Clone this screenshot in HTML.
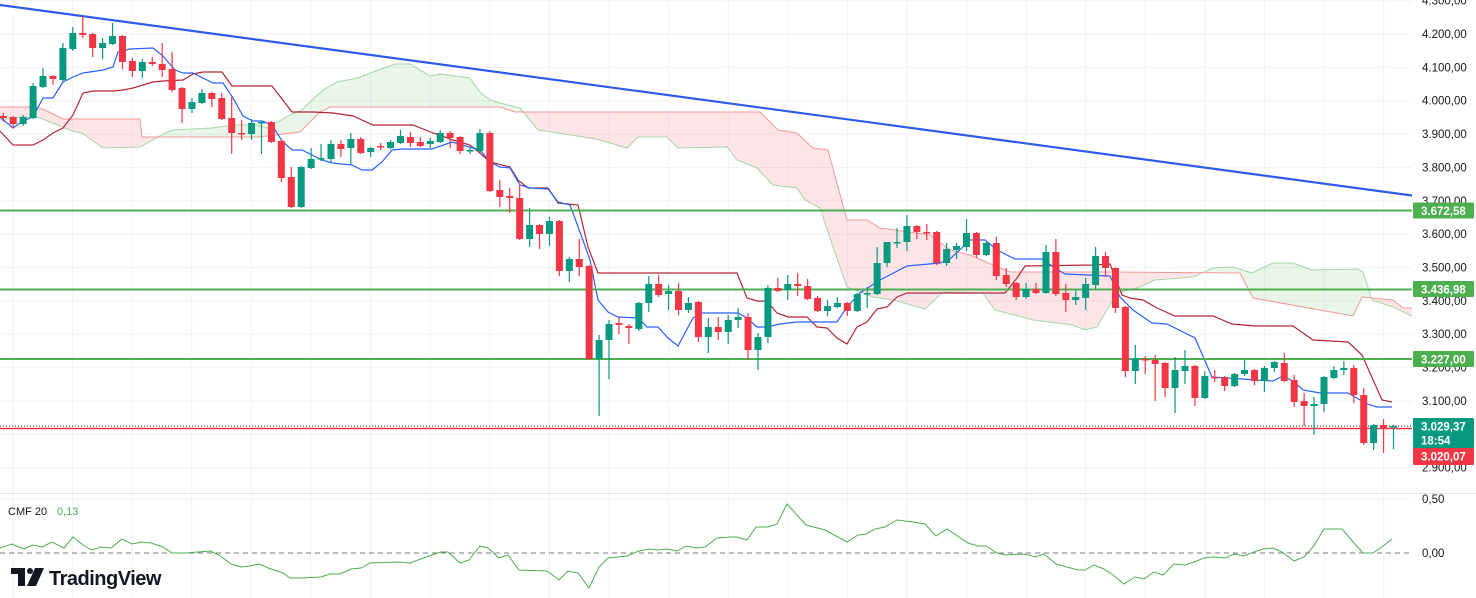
<!DOCTYPE html>
<html><head><meta charset="utf-8"><style>
html,body{margin:0;padding:0;background:#fff;}
svg{display:block;font-family:"Liberation Sans",sans-serif;}
</style></head><body>
<svg id="s" width="1476" height="598" viewBox="0 0 1476 598" xmlns="http://www.w3.org/2000/svg">
<defs>
<clipPath id="pane"><rect x="0" y="0" width="1412" height="492"/></clipPath>
<clipPath id="cA"><polygon id="pAbelow" points=""/></clipPath>
<clipPath id="cB"><polygon id="pBbelow" points=""/></clipPath>
</defs>
<g id="grid"></g>
<g clip-path="url(#pane)">
<g id="cloud"></g>
<g id="lines"></g>
<g id="candles"></g>
</g>
<line x1="0" y1="493.5" x2="1476" y2="493.5" stroke="#e0e3eb" stroke-width="1"/>
<g id="cmf"></g>
<g id="axis" font-size="11.5" fill="#131722"></g>
<text x="8" y="515" font-size="11" fill="#131722">CMF 20</text>
<text x="57" y="515" font-size="11" fill="#4caf50">0,13</text>
<g transform="translate(11,568)">
<rect x="0" y="0" width="14" height="6" fill="#131722"/><rect x="7" y="0" width="7" height="18" fill="#131722"/>
<circle cx="19" cy="3" r="3" fill="#131722"/><polygon points="24,0 33,0 25,18 16,18" fill="#131722"/>
<text x="38" y="17" font-size="20" font-weight="bold" fill="#131722" style="letter-spacing:-0.5px">TradingView</text>
</g>
</svg>
<script>
var NS="http://www.w3.org/2000/svg";
function el(p,t,a,txt){var e=document.createElementNS(NS,t);for(var k in a)e.setAttribute(k,a[k]);if(txt!==undefined)e.textContent=txt;p.appendChild(e);return e;}
var g=document.getElementById('grid');
for(var k=0;k<24;k++){var x=13+59.6*k;if(x>1412)break;el(g,'line',{x1:x,y1:0,x2:x,y2:598,stroke:'#f0f3fa'});}
var P=function(p){return 34+(4200-p)*0.3336;};
for(var p=2900;p<=4300;p+=100){var y=P(p);el(g,'line',{x1:0,y1:y,x2:1412,y2:y,stroke:'#f0f3fa'});}
el(g,'line',{x1:0,y1:499,x2:1412,y2:499,stroke:'#f0f3fa'});
// cloud
var A=[[0,120],[20,117],[40,118],[50,122],[72,131],[82,133],[103,148],[140,147],[165,133],[173,130],[212,128],[233,125],[257,125],[267,128],[290,115],[302,110],[312,100],[323,90],[337,82],[358,78],[370,73],[395,64],[410,64],[430,76],[440,74],[470,78],[480,92],[490,100],[500,103],[520,108],[538,130],[590,138],[600,140],[627,148],[638,137],[667,137],[678,148],[727,147],[737,160],[757,168],[773,185],[797,188],[805,200],[820,208],[833,247],[847,287],[873,297],[893,300],[925,309],[943,292],[983,293],[995,310],[1033,320],[1073,325],[1085,330],[1097,327],[1117,293],[1137,288],[1155,280],[1193,277],[1213,268],[1233,267],[1252,273],[1273,263],[1293,263],[1312,270],[1358,269],[1363,272],[1372,300],[1393,307],[1412,316]];
var B=[[0,107],[37,107],[45,110],[55,115],[63,119],[140,119],[142,137],[258,137],[300,132],[320,112],[330,107],[500,107],[515,112],[760,112],[778,130],[797,133],[813,148],[828,150],[847,220],[867,220],[880,228],[930,235],[950,250],[970,255],[1000,268],[1010,272],[1117,272],[1240,273],[1253,298],[1353,316],[1362,297],[1393,300],[1403,308],[1412,308]];
function pts(a){return a.map(function(q){return q[0]+','+q[1];}).join(' ');}
document.getElementById('pAbelow').setAttribute('points',pts(A)+' 1412,600 0,600');
document.getElementById('pBbelow').setAttribute('points',pts(B)+' 1412,600 0,600');
var cl=document.getElementById('cloud');
el(cl,'polygon',{points:pts(B)+' 1412,-10 0,-10',fill:'rgba(76,175,80,0.13)','clip-path':'url(#cA)'});
el(cl,'polygon',{points:pts(A)+' 1412,-10 0,-10',fill:'rgba(242,54,69,0.13)','clip-path':'url(#cB)'});
el(cl,'polyline',{points:pts(A),fill:'none',stroke:'#a5d6a7','stroke-width':1});
el(cl,'polyline',{points:pts(B),fill:'none',stroke:'#ef9a9a','stroke-width':1});
var ln=document.getElementById('lines');
var T=[[0,117],[13,128],[23,121],[33,117],[43,98],[53,98],[63,82],[73,77],[83,73],[103,70],[113,67],[118,52],[130,49],[153,48],[163,56],[175,70],[183,73],[193,73],[213,83],[223,83],[233,98],[243,116],[253,121],[262,121],[272,125],[282,141],[292,150],[302,150],[322,160],[332,163],[352,165],[362,170],[372,170],[382,162],[392,150],[402,149],[432,149],[452,142],[480,150],[490,162],[500,167],[510,168],[520,185],[530,188],[548,189],[558,202],[570,205],[580,232],[590,260],[598,300],[608,312],[618,317],[638,318],[647,327],[658,327],[668,338],[678,346],[693,318],[702,313],[738,313],[747,318],[757,327],[767,327],[780,324],[797,322],[837,322],[847,307],[860,293],[880,280],[907,266],[940,263],[950,259],[963,247],[970,240],[985,240],[997,250],[1015,259],[1042,259],[1055,268],[1065,274],[1110,276],[1120,297],[1133,310],[1152,323],[1167,324],[1183,332],[1195,338],[1212,377],[1273,381],[1283,376],[1293,381],[1303,390],[1320,393],[1348,393],[1367,404],[1377,407],[1392,407]];
var K=[[0,131],[13,145],[33,145],[43,140],[53,133],[63,128],[73,115],[83,93],[93,91],[113,91],[123,90],[133,88],[143,85],[153,82],[163,81],[183,80],[193,74],[203,72],[222,72],[232,86],[272,86],[292,112],[313,112],[333,113],[353,116],[373,125],[413,125],[433,133],[453,140],[470,145],[480,153],[490,162],[510,167],[518,180],[528,188],[548,188],[558,203],[578,205],[588,247],[598,273],[737,273],[747,298],[757,301],[767,301],[777,313],[788,317],[807,317],[817,327],[827,328],[837,338],[847,344],[857,327],[867,322],[877,309],[887,307],[897,297],[907,293],[1005,293],[1017,278],[1025,266],[1093,265],[1110,264],[1122,295],[1130,298],[1143,300],[1157,308],[1175,316],[1213,316],[1232,324],[1255,326],[1293,326],[1313,340],[1348,342],[1362,355],[1382,400],[1392,402]];
el(ln,'polyline',{points:pts(K),fill:'none',stroke:'#b22833','stroke-width':1.2});
el(ln,'polyline',{points:pts(T),fill:'none',stroke:'#2962ff','stroke-width':1.2});
el(ln,'line',{x1:0,y1:5,x2:1412,y2:195.5,stroke:'#2f5bea','stroke-width':2.2});
[210.5,289.5,359].forEach(function(y){el(ln,'line',{x1:0,y1:y,x2:1412,y2:y,stroke:'#4caf50','stroke-width':2});});
el(ln,'line',{x1:0,y1:426,x2:1412,y2:426,stroke:'#131722','stroke-width':1,'stroke-dasharray':'1,2'});
el(ln,'line',{x1:0,y1:428.5,x2:1412,y2:428.5,stroke:'#f23645','stroke-width':1.5});
var D=[[116,118,113,122],[117,124,116,128],[124,117,115,126],[118,86,83,119],[87,76,68,88],[76,79,75,85],[80,48,43,82],[49,33,27,51],[33,35,16,38],[34,48,33,57],[48,43,38,59],[44,36,23,45],[36,62,35,69],[61,71,58,77],[71,62,59,78],[62,64,57,66],[64,70,43,77],[69,90,52,92],[88,109,87,123],[109,102,98,113],[103,93,89,104],[93,99,92,107],[98,119,93,120],[118,133,97,154],[133,134,120,140],[134,123,119,140],[123,122,121,154],[122,142,121,143],[141,178,140,182],[177,207,167,208],[207,167,166,208],[168,159,148,169],[159,158,144,161],[159,144,140,162],[144,149,140,157],[148,139,133,165],[139,153,137,154],[152,148,147,157],[146,147,143,150],[148,142,140,149],[143,136,130,144],[137,143,132,147],[142,146,137,147],[144,141,138,148],[142,133,130,143],[133,138,131,148],[137,151,136,154],[151,150,147,154],[151,133,129,152],[133,191,131,192],[190,197,180,207],[196,198,188,213],[198,239,185,240],[239,225,208,247],[225,234,224,249],[234,221,217,246],[221,271,220,276],[271,259,257,282],[259,267,239,276],[266,359,265,360],[359,340,335,416],[340,324,320,379],[323,325,317,334],[326,328,324,344],[329,303,302,331],[303,284,276,312],[284,295,275,297],[294,291,285,310],[291,310,283,315],[310,303,297,313],[302,337,301,342],[337,327,318,353],[327,332,317,340],[332,320,315,344],[320,317,308,328],[317,350,313,360],[350,337,333,370],[337,288,285,343],[288,291,278,292],[290,284,275,300],[284,286,273,296],[286,299,279,300],[298,311,296,312],[311,306,300,316],[307,303,297,308],[303,311,302,316],[311,294,293,312],[294,293,287,308],[294,263,247,295],[263,242,242,267],[243,242,228,248],[242,226,215,251],[226,232,225,239],[232,233,224,240],[232,263,231,265],[263,249,243,266],[250,246,243,259],[247,233,219,251],[233,255,232,258],[255,243,242,256],[243,276,237,280],[275,284,268,287],[283,297,282,300],[297,289,283,299],[289,293,283,294],[293,252,245,294],[252,294,239,296],[293,300,284,312],[300,297,290,305],[298,284,278,310],[285,256,247,290],[256,268,252,277],[268,308,267,313],[307,371,306,377],[371,358,345,384],[359,360,356,374],[360,364,355,401],[363,388,362,397],[388,370,357,413],[371,366,350,384],[366,398,365,406],[398,376,371,399],[377,378,370,382],[377,386,376,391],[386,374,373,387],[374,370,360,376],[370,381,369,385],[381,368,366,392],[368,362,361,372],[363,381,353,382],[380,402,375,407],[401,406,393,426],[406,404,397,435],[404,377,376,412],[378,370,366,379],[370,368,361,375],[368,395,365,403],[395,443,388,445],[443,425,424,450],[425,429,419,453],[427,426,425,449]];
var cg=document.getElementById('candles');
D.forEach(function(d,i){var x=3.3+9.93*i;var up=d[1]<d[0];var c=up?'#089981':'#f23645';
el(cg,'line',{x1:x,y1:d[2],x2:x,y2:d[3],stroke:c,'stroke-width':1.2});
var t=Math.min(d[0],d[1]),h=Math.max(1.5,Math.abs(d[1]-d[0]));el(cg,'rect',{x:x-3.5,y:t,width:7,height:h,fill:c});});
var cm=document.getElementById('cmf');
el(cm,'line',{x1:0,y1:553,x2:1412,y2:553,stroke:'#787b86','stroke-width':1,'stroke-dasharray':'5,4'});
var C=[[0,548],[12,544],[24,549],[33,545],[42,547],[52,542],[64,548],[73,537],[83,545],[92,550],[101,547],[111,548],[122,539],[132,544],[142,542],[151,543],[163,547],[172,553],[186,553],[198,552],[210,551],[219,555],[231,564],[241,567],[250,566],[259,564],[271,569],[283,573],[290,578],[302,578],[321,577],[330,574],[340,574],[351,569],[361,568],[370,563],[399,562],[410,563],[429,556],[441,552],[448,552],[460,563],[469,560],[480,546],[488,548],[499,558],[508,555],[519,570],[547,571],[559,580],[568,571],[578,573],[589,588],[599,567],[608,558],[618,557],[627,556],[639,551],[649,549],[658,550],[667,549],[677,551],[686,546],[696,548],[705,547],[717,538],[730,537],[737,537],[747,540],[756,527],[768,527],[777,524],[787,504],[806,525],[825,530],[847,542],[858,535],[866,534],[875,529],[885,527],[897,520],[913,522],[925,524],[936,536],[947,529],[956,535],[968,543],[978,546],[986,546],[997,553],[1006,555],[1025,554],[1035,557],[1044,554],[1056,564],[1078,570],[1085,570],[1094,565],[1104,569],[1113,575],[1124,584],[1135,577],[1144,579],[1154,572],[1163,575],[1174,564],[1185,565],[1194,562],[1204,558],[1213,557],[1225,558],[1234,554],[1244,556],[1254,552],[1263,549],[1273,548],[1282,552],[1294,561],[1304,557],[1313,547],[1324,529],[1342,529],[1354,543],[1363,553],[1373,553],[1382,547],[1392,539]];
el(cm,'polyline',{points:pts(C),fill:'none',stroke:'#4caf50','stroke-width':1});
var ax=document.getElementById('axis');
for(var p=2900;p<=4300;p+=100){var y=P(p);var s=(p/1000|0)+'.'+String(p%1000).padStart(3,'0')+',00';el(ax,'text',{x:1422,y:y+4},s);}
el(ax,'text',{x:1422,y:503},'0,50');el(ax,'text',{x:1422,y:557},'0,00');
function box(y,h,c,lines){el(ax,'rect',{x:1413,y:y,width:61,height:h,fill:c,rx:1});lines.forEach(function(t,i){el(ax,'text',{x:1421,y:y+12.5+i*14,fill:'#fff','font-weight':'bold'},t);});}
box(202.5,16,'#4caf50',['3.672,58']);box(281,16,'#4caf50',['3.436,98']);box(351,16,'#4caf50',['3.227,00']);
box(418,30,'#089981',['3.029,37','18:54']);box(448,17,'#f23645',['3.020,07']);
</script>
</body></html>
